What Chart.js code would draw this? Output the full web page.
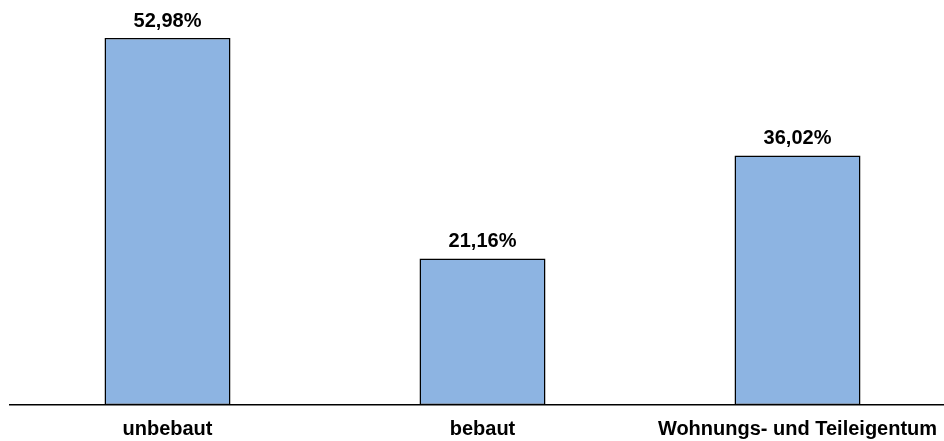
<!DOCTYPE html>
<html>
<head>
<meta charset="utf-8">
<script src="https://cdn.jsdelivr.net/npm/chart.js@4/dist/chart.umd.min.js"></script>
<style>
  html, body { margin: 0; padding: 0; background: #fff; overflow: hidden; }
  #wrap { width: 944px; height: 441px; overflow: hidden; }
</style>
</head>
<body>
<div id="wrap"><canvas id="myChart" width="960" height="453"></canvas></div>
<script>
const categories = ['unbebaut', 'bebaut', 'Wohnungs- und Teileigentum'];
const shares = [52.98, 21.16, 36.02];

const FONT = '"Liberation Sans", Arial, sans-serif';

// value labels above each bar
const valueLabels = {
  id: 'valueLabels',
  afterDatasetsDraw(chart) {
    const { ctx } = chart;
    const meta = chart.getDatasetMeta(0);
    ctx.save();
    ctx.font = 'bold 20px ' + FONT;
    ctx.fillStyle = '#000';
    ctx.textAlign = 'center';
    ctx.textBaseline = 'alphabetic';
    meta.data.forEach((bar, i) => {
      const text = shares[i].toLocaleString('de-DE', { minimumFractionDigits: 2 }) + '%';
      ctx.fillText(text, bar.x, bar.y - 11);
    });
    ctx.restore();
  },
};

const context = document.getElementById('myChart').getContext('2d');

new Chart(context, {
  type: 'bar',
  data: {
    labels: categories,
    datasets: [
      {
        data: shares,
        backgroundColor: '#8DB4E2',
        borderColor: '#000',
        borderWidth: 1.5,
        borderSkipped: false,
        categoryPercentage: 1,
        barPercentage: 0.4,
      },
    ],
  },
  options: {
    responsive: false,
    animation: false,
    layout: { padding: { top: 24, left: 10, right: 5, bottom: 0 } },
    plugins: {
      legend: { display: false },
      tooltip: { enabled: false },
    },
    scales: {
      x: {
        grid: { display: false, drawTicks: false },
        border: { display: true, color: '#000', width: 1.5 },
        ticks: {
          padding: 12,
          color: '#000',
          font: { family: FONT, size: 20, weight: 'bold' },
          maxRotation: 0,
        },
      },
      y: {
        display: false,
        min: 0,
        max: 55,
      },
    },
  },
  plugins: [valueLabels],
});
</script>
</body>
</html>
